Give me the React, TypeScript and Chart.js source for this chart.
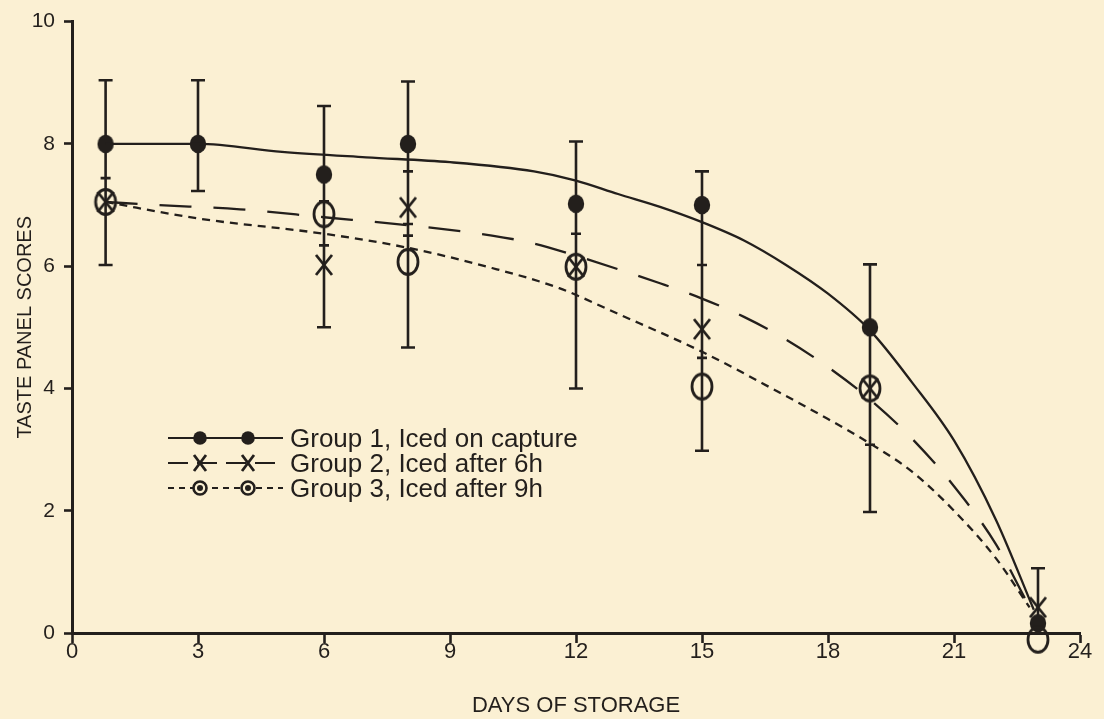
import React, { useEffect, useRef } from 'react';
import { Chart, registerables } from 'chart.js';

Chart.register(...registerables);

const INK = '#231f1c';
const PAPER = '#fbf0d3';
const FONT = "'Liberation Sans', Arial, sans-serif";

// ---- data ----
const sampleDays = [0.8, 3, 6, 8, 12, 15, 19, 23];
const group1Scores = [8.0, 8.0, 7.5, 8.0, 7.02, 7.0, 5.0, 0.16];
const group2Scores: (number | null)[] = [7.05, null, 6.02, 6.96, 5.99, 4.97, 4.0, 0.42];
const group3Scores: (number | null)[] = [7.05, null, 6.85, 6.07, 5.99, 4.03, 4.0, -0.11];

const errorHigh = [9.04, 9.04, 8.62, 9.02, 8.04, 7.55, 6.03, 1.06];
const errorLow = [6.02, 7.23, 5.0, 4.67, 4.0, 2.98, 1.98, 0.2];
const errorInnerTicks: number[][] = [[7.44], [], [7.06, 6.34], [7.55, 6.69, 6.5], [6.53], [6.02, 4.5], [3.08], []];

const group1CurveDays = [0.8, 3, 5, 7, 9, 11, 12, 13, 14, 15, 16, 17, 18, 19, 20, 21, 22, 22.9];
const group1CurveScores = [8.0, 8.0, 7.87, 7.78, 7.7, 7.55, 7.4, 7.18, 6.97, 6.72, 6.42, 6.02, 5.55, 4.95, 4.1, 3.15, 1.85, 0.38];

const group2CurveDays = [0.8, 2, 4, 6, 8, 10, 11, 12, 13, 14, 15, 16, 17, 18, 19, 20, 21, 22, 22.8];
const group2CurveScores = [7.05, 7.0, 6.93, 6.8, 6.67, 6.5, 6.37, 6.17, 5.95, 5.72, 5.47, 5.17, 4.8, 4.35, 3.82, 3.18, 2.4, 1.45, 0.42];

const group3CurveDays = [0.8, 3, 6, 8, 10, 11.6, 13, 15, 16.8, 18, 19, 20, 21, 22, 22.8];
const group3CurveScores = [7.05, 6.78, 6.53, 6.3, 5.97, 5.64, 5.22, 4.6, 3.95, 3.5, 3.1, 2.64, 2.0, 1.22, 0.42];

const seriesLabels = ['Group 1, Iced on capture', 'Group 2, Iced after 6h', 'Group 3, Iced after 9h'];
const xAxisTitle = 'DAYS OF STORAGE';
const yAxisTitle = 'TASTE PANEL SCORES';

const toPoints = (xs: number[], ys: (number | null)[]) =>
  xs.map((x, i) => ({ x, y: ys[i] })).filter((p) => p.y !== null) as { x: number; y: number }[];

// ---- marker images ----
function makeMarker(w: number, h: number, draw: (c: CanvasRenderingContext2D) => void) {
  const cv = document.createElement('canvas');
  cv.width = w;
  cv.height = h;
  const c = cv.getContext('2d')!;
  c.strokeStyle = INK;
  c.fillStyle = INK;
  draw(c);
  return cv;
}

const filledOval = () =>
  makeMarker(18, 20, (c) => {
    c.beginPath();
    c.ellipse(9, 10, 8.2, 9.2, 0, 0, Math.PI * 2);
    c.fill();
  });
const openOval = () =>
  makeMarker(26, 30, (c) => {
    c.lineWidth = 2.8;
    c.beginPath();
    c.ellipse(13, 15, 10, 12.5, 0, 0, Math.PI * 2);
    c.stroke();
  });
const crossMark = () =>
  makeMarker(20, 24, (c) => {
    c.lineWidth = 2.8;
    c.beginPath();
    c.moveTo(2, 2);
    c.lineTo(18, 22);
    c.moveTo(18, 2);
    c.lineTo(2, 22);
    c.stroke();
  });

const paperPlugin = {
  id: 'paper',
  beforeDraw(chart: any) {
    const { ctx, width, height } = chart;
    ctx.save();
    ctx.fillStyle = PAPER;
    ctx.fillRect(0, 0, width, height);
    ctx.restore();
  },
};

const errorBarPlugin = {
  id: 'errorBars',
  beforeDatasetsDraw(chart: any) {
    const { ctx, scales } = chart;
    const xs = scales.x;
    const ys = scales.y;
    ctx.save();
    ctx.strokeStyle = INK;
    ctx.lineWidth = 2.6;
    sampleDays.forEach((d, i) => {
      const px = xs.getPixelForValue(d);
      const top = ys.getPixelForValue(errorHigh[i]);
      const bot = ys.getPixelForValue(errorLow[i]);
      ctx.beginPath();
      ctx.moveTo(px, top);
      ctx.lineTo(px, bot);
      ctx.moveTo(px - 7, top);
      ctx.lineTo(px + 7, top);
      ctx.moveTo(px - 7, bot);
      ctx.lineTo(px + 7, bot);
      errorInnerTicks[i].forEach((t) => {
        const ty = ys.getPixelForValue(t);
        ctx.moveTo(px - 5, ty);
        ctx.lineTo(px + 5, ty);
      });
      ctx.stroke();
    });
    ctx.restore();
  },
};

const legendPlugin = {
  id: 'paperLegend',
  afterDraw(chart: any) {
    const { ctx } = chart;
    const rows = [
      { y: 438, dash: [] as number[], marker: 'dot' },
      { y: 463, dash: [20, 9], marker: 'x' },
      { y: 488, dash: [6, 5], marker: 'bull' },
    ];
    const x0 = 168;
    const x1 = 283;
    const mx = [200, 248];
    ctx.save();
    rows.forEach((r, i) => {
      ctx.strokeStyle = INK;
      ctx.fillStyle = INK;
      ctx.lineWidth = 2.2;
      ctx.setLineDash(r.dash);
      ctx.beginPath();
      ctx.moveTo(x0, r.y);
      ctx.lineTo(x1, r.y);
      ctx.stroke();
      ctx.setLineDash([]);
      mx.forEach((m) => {
        if (r.marker === 'dot') {
          ctx.beginPath();
          ctx.arc(m, r.y, 6.8, 0, Math.PI * 2);
          ctx.fill();
        } else if (r.marker === 'x') {
          ctx.lineWidth = 2.8;
          ctx.beginPath();
          ctx.moveTo(m - 6, r.y - 8);
          ctx.lineTo(m + 6, r.y + 8);
          ctx.moveTo(m + 6, r.y - 8);
          ctx.lineTo(m - 6, r.y + 8);
          ctx.stroke();
        } else {
          ctx.fillStyle = PAPER;
          ctx.lineWidth = 2.6;
          ctx.beginPath();
          ctx.arc(m, r.y, 6.5, 0, Math.PI * 2);
          ctx.fill();
          ctx.stroke();
          ctx.fillStyle = INK;
          ctx.beginPath();
          ctx.arc(m, r.y, 3, 0, Math.PI * 2);
          ctx.fill();
        }
      });
      ctx.fillStyle = INK;
      ctx.font = `26px ${FONT}`;
      ctx.textBaseline = 'alphabetic';
      ctx.textAlign = 'left';
      ctx.fillText(seriesLabels[i], 290, r.y + 9.3);
    });
    ctx.restore();
  },
};

export default function App() {
  const ref = useRef<HTMLCanvasElement | null>(null);

  useEffect(() => {
    if (!ref.current) return;
    const tickFont = { family: FONT, size: 22 };
    const curve = {
      borderColor: INK,
      borderWidth: 2.3,
      pointRadius: 0,
      cubicInterpolationMode: 'monotone',
      fill: false,
      clip: false,
    };
    const chart = new Chart(ref.current, {
      type: 'line',
      data: {
        datasets: [
          { ...curve, label: seriesLabels[0] + ' curve', data: toPoints(group1CurveDays, group1CurveScores) },
          { ...curve, label: seriesLabels[1] + ' curve', data: toPoints(group2CurveDays, group2CurveScores), borderDash: [32, 22] },
          { ...curve, label: seriesLabels[2] + ' curve', data: toPoints(group3CurveDays, group3CurveScores), borderDash: [8, 6] },
          {
            label: seriesLabels[2],
            data: toPoints(sampleDays, group3Scores),
            showLine: false,
            pointStyle: openOval() as any,
            pointRadius: 12,
            borderColor: INK,
            backgroundColor: INK,
            clip: false,
          },
          {
            label: seriesLabels[1],
            data: toPoints(sampleDays, group2Scores),
            showLine: false,
            pointStyle: crossMark() as any,
            pointRadius: 10,
            borderColor: INK,
            backgroundColor: INK,
            clip: false,
          },
          {
            label: seriesLabels[0],
            data: toPoints(sampleDays, group1Scores),
            showLine: false,
            pointStyle: filledOval() as any,
            pointRadius: 9,
            borderColor: INK,
            backgroundColor: INK,
            clip: false,
          },
        ] as any,
      },
      options: {
        animation: false,
        responsive: false,
        devicePixelRatio: 1,
        events: [],
        layout: { padding: { top: 13, right: 24, left: 0, bottom: 0 } },
        plugins: { legend: { display: false }, tooltip: { enabled: false }, title: { display: false } },
        scales: {
          x: {
            type: 'linear',
            min: 0,
            max: 24,
            afterFit: (s: any) => {
              s.height = 86;
            },
            ticks: { stepSize: 3, color: INK, font: tickFont, padding: -4, maxRotation: 0 },
            grid: { drawOnChartArea: false, drawTicks: true, tickLength: 10, tickWidth: 2.6, tickColor: INK },
            border: { display: true, color: INK, width: 3 },
            title: { display: true, text: xAxisTitle, color: INK, font: { family: FONT, size: 22 }, padding: { top: 0, bottom: 0 } },
          },
          y: {
            type: 'linear',
            min: 0,
            max: 10,
            afterFit: (s: any) => {
              s.width = 72;
            },
            ticks: { stepSize: 2, color: INK, font: { family: FONT, size: 21 }, padding: 9 },
            grid: { drawOnChartArea: false, drawTicks: true, tickLength: 8, tickWidth: 2.6, tickColor: INK },
            border: { display: true, color: INK, width: 3 },
            title: { display: true, text: yAxisTitle, color: INK, font: { family: FONT, size: 20 }, padding: { top: 13, bottom: 0 } },
          },
        },
      } as any,
      plugins: [paperPlugin, errorBarPlugin, legendPlugin],
    });
    return () => chart.destroy();
  }, []);

  return (
    <div style={{ position: 'fixed', left: 0, top: 0, width: 1104, height: 719, background: PAPER }}>
      <canvas ref={ref} width={1104} height={719} style={{ width: 1104, height: 719, display: 'block' }} />
    </div>
  );
}
